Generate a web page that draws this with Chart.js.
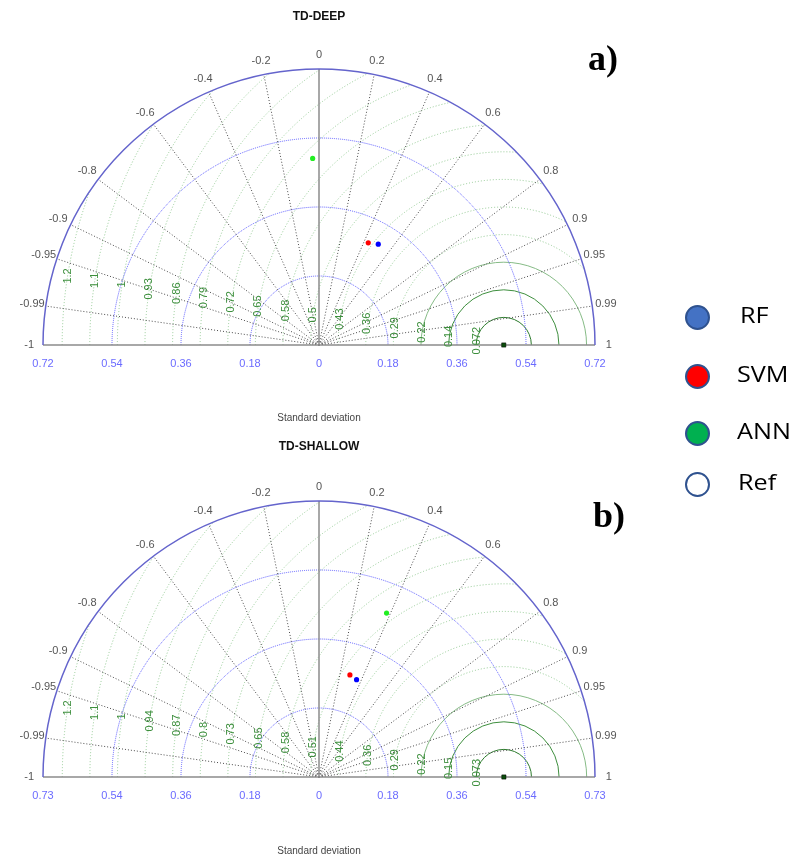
<!DOCTYPE html>
<html>
<head>
<meta charset="utf-8">
<script src="https://cdn.jsdelivr.net/npm/chart.js@4.4.1/dist/chart.umd.min.js"></script>
<style>
  body { margin: 0; background: #fff; width: 795px; height: 860px; position: relative; overflow: hidden; }
  canvas { position: absolute; left: 0; }
  #ca { top: 0; }
  #cb { top: 430px; }
  .lg { position: absolute; left: 685px; height: 0; }
  .dot { position: absolute; left: 0; top: -12.5px; width: 21px; height: 21px; border: 2px solid #2f528f; border-radius: 50%; }
  .tx { position: absolute; top: -16px; line-height: 30px; font: 21px "Open Sans", sans-serif; color: #000;
        transform: scaleX(1.2); transform-origin: left center; white-space: nowrap; }
</style>
</head>
<body>
<canvas id="ca" width="795" height="430"></canvas>
<canvas id="cb" width="795" height="430"></canvas>

<div class="lg" style="top:317px"><span class="dot" style="background:#4472c4"></span><span class="tx" style="left:55px">RF</span></div>
<div class="lg" style="top:376px"><span class="dot" style="background:#ff0000"></span><span class="tx" style="left:52px">SVM</span></div>
<div class="lg" style="top:433px"><span class="dot" style="background:#00b050"></span><span class="tx" style="left:52px">ANN</span></div>
<div class="lg" style="top:484px"><span class="dot" style="background:#fff"></span><span class="tx" style="left:53px">Ref</span></div>

<script>
/* ---------- data ---------- */
const MODELS = ["RF", "SVM", "ANN"];
const POINT_COLORS = ["#0000ff", "#ff0000", "#22ee22"];

const CORR_TICKS = [0.2, 0.4, 0.6, 0.8, 0.9, 0.95, 0.99];
const CORR_LABELS = [-1, -0.99, -0.95, -0.9, -0.8, -0.6, -0.4, -0.2, 0, 0.2, 0.4, 0.6, 0.8, 0.9, 0.95, 0.99, 1];

// a) TD-DEEP
const stdA = [0.305, 0.296, 0.487];
const corrA = [0.507, 0.434, -0.034];
const refStdA = 0.482;
const stdMaxA = 0.72;
const stdTicksA = [0.18, 0.36, 0.54, 0.72];
const stdTickLabelsA = ["0.18", "0.36", "0.54", "0.72"];
const rmsA = [0.072, 0.144, 0.216, 0.288, 0.36, 0.432, 0.504, 0.576, 0.648, 0.72, 0.792, 0.864, 0.936, 1.008, 1.08, 1.152];
const rmsLabelsA = ["0.072", "0.14", "0.22", "0.29", "0.36", "0.43", "0.5", "0.58", "0.65", "0.72", "0.79", "0.86", "0.93", "1", "1.1", "1.2"];

// b) TD-SHALLOW
const stdB = [0.276, 0.282, 0.469];
const corrB = [0.36, 0.29, 0.381];
const refStdB = 0.489;
const stdMaxB = 0.73;
const stdTicksB = [0.1825, 0.365, 0.5475, 0.73];
const stdTickLabelsB = ["0.18", "0.36", "0.54", "0.73"];
const rmsB = [0.073, 0.146, 0.219, 0.292, 0.365, 0.438, 0.511, 0.584, 0.657, 0.73, 0.803, 0.876, 0.949, 1.022, 1.095, 1.168];
const rmsLabelsB = ["0.073", "0.15", "0.22", "0.29", "0.36", "0.44", "0.51", "0.58", "0.65", "0.73", "0.8", "0.87", "0.94", "1", "1.1", "1.2"];

/* ---------- taylor grid plugin ---------- */
const FONT = '"Liberation Sans", Arial, sans-serif';
const RMS_STYLE = [
  { color: "#2c7a2c", dash: [] },
  { color: "#3f8f3f", dash: [] },
  { color: "#86bb86", dash: [] },
];
const RMS_DOTTED = { color: "#92c892", dash: [1, 2] };

function makeGrid(o) {
  return {
    id: "taylorGrid",
    beforeDatasetsDraw(chart) {
      const { ctx } = chart, xs = chart.scales.x, ys = chart.scales.y;
      const cx = xs.getPixelForValue(0), cy = ys.getPixelForValue(0);
      const k = xs.getPixelForValue(1) - cx;
      const R = o.max * k;
      const refX = xs.getPixelForValue(o.refStd);
      ctx.save();

      // RMS circles around the reference, clipped to the half disc
      ctx.save();
      ctx.beginPath();
      ctx.arc(cx, cy, R, Math.PI, 2 * Math.PI);
      ctx.closePath();
      ctx.clip();
      o.rms.forEach((r, i) => {
        const st = RMS_STYLE[i] || RMS_DOTTED;
        ctx.strokeStyle = st.color;
        ctx.setLineDash(st.dash);
        ctx.lineWidth = 1;
        ctx.beginPath();
        ctx.arc(refX, cy, r * k, Math.PI, 2 * Math.PI);
        ctx.stroke();
      });
      ctx.restore();

      // std dev arcs
      ctx.strokeStyle = "#5c5cff";
      ctx.lineWidth = 1;
      ctx.setLineDash([1, 1]);
      o.stdTicks.slice(0, -1).forEach(s => {
        ctx.beginPath();
        ctx.arc(cx, cy, s * k, Math.PI, 2 * Math.PI);
        ctx.stroke();
      });

      // correlation spokes
      ctx.strokeStyle = "#4a4a4a";
      ctx.setLineDash([1, 2]);
      CORR_TICKS.forEach(c => {
        const s = Math.sqrt(1 - c * c);
        [c, -c].forEach(cc => {
          ctx.beginPath();
          ctx.moveTo(cx, cy);
          ctx.lineTo(cx + R * cc, cy - R * s);
          ctx.stroke();
        });
      });
      ctx.setLineDash([]);

      // zero-correlation axis and baseline
      ctx.strokeStyle = "#8c8c8c";
      ctx.lineWidth = 1.5;
      ctx.beginPath();
      ctx.moveTo(cx, cy);
      ctx.lineTo(cx, cy - R);
      ctx.moveTo(cx - R, cy);
      ctx.lineTo(cx + R, cy);
      ctx.stroke();

      // outer arc
      ctx.strokeStyle = "#6464cc";
      ctx.lineWidth = 1.5;
      ctx.beginPath();
      ctx.arc(cx, cy, R, Math.PI, 2 * Math.PI);
      ctx.stroke();

      // correlation labels
      ctx.fillStyle = "#555";
      ctx.font = "11px " + FONT;
      ctx.textAlign = "center";
      ctx.textBaseline = "middle";
      const rt = 1.05 * R;
      CORR_LABELS.forEach(c => {
        const s = Math.sqrt(Math.max(0, 1 - c * c));
        ctx.fillText(String(c), cx + rt * c, cy - rt * s);
      });

      // std labels
      ctx.fillStyle = "#6b6bff";
      ctx.fillText("0", cx, cy + 19);
      o.stdTicks.forEach((s, i) => {
        ctx.fillText(o.stdTickLabels[i], cx - s * k, cy + 19);
        ctx.fillText(o.stdTickLabels[i], cx + s * k, cy + 19);
      });

      // RMS labels, rotated, on each circle
      ctx.fillStyle = "#3d8f3d";
      const a = 9 * Math.PI / 180;
      o.rms.forEach((r, i) => {
        const px = refX - r * k * Math.cos(a), py = cy - r * k * Math.sin(a);
        ctx.save();
        ctx.translate(px, py);
        ctx.rotate(-Math.PI / 2);
        ctx.fillText(o.rmsLabels[i], 0, 0);
        ctx.restore();
      });

      // titles
      ctx.fillStyle = "#111";
      ctx.font = "bold 12px " + FONT;
      ctx.fillText(o.title, cx, 17);
      ctx.fillStyle = "#444";
      ctx.font = "10px " + FONT;
      ctx.fillText("Standard deviation", cx, o.xTitleY);
      ctx.fillStyle = "#000";
      ctx.textAlign = "left";
      ctx.textBaseline = "alphabetic";
      ctx.font = 'bold 36px "Liberation Serif", "Times New Roman", serif';
      ctx.fillText(o.tag, o.tagX, o.tagY);
      ctx.restore();
    },
  };
}

function taylorChart(id, o) {
  const pts = o.std.map((s, i) => ({ x: s * o.corr[i], y: s * Math.sqrt(1 - o.corr[i] * o.corr[i]) }));
  new Chart(document.getElementById(id), {
    type: "scatter",
    data: {
      datasets: [
        ...MODELS.map((m, i) => ({
          label: m,
          data: [pts[i]],
          backgroundColor: POINT_COLORS[i],
          borderWidth: 0,
          pointRadius: 2.6,
          clip: false,
        })),
        {
          label: "Ref",
          data: [{ x: o.refStd, y: 0 }],
          pointStyle: "rect",
          backgroundColor: "#0b4d0b",
          borderColor: "#000",
          borderWidth: 0.5,
          pointRadius: 3,
          clip: false,
        },
      ],
    },
    options: {
      responsive: false,
      animation: false,
      events: [],
      layout: { padding: o.pad },
      plugins: { legend: { display: false }, tooltip: { enabled: false } },
      scales: {
        x: { type: "linear", min: -o.max, max: o.max, display: false },
        y: { type: "linear", min: 0, max: o.max, display: false },
      },
    },
    plugins: [makeGrid(o)],
  });
}

taylorChart("ca", {
  title: "TD-DEEP", tag: "a)", tagX: 588, tagY: 70, xTitleY: 418,
  std: stdA, corr: corrA, refStd: refStdA, max: stdMaxA,
  stdTicks: stdTicksA, stdTickLabels: stdTickLabelsA, rms: rmsA, rmsLabels: rmsLabelsA,
  pad: { left: 43, right: 200, top: 69, bottom: 85 },
});

taylorChart("cb", {
  title: "TD-SHALLOW", tag: "b)", tagX: 593, tagY: 97, xTitleY: 421,
  std: stdB, corr: corrB, refStd: refStdB, max: stdMaxB,
  stdTicks: stdTicksB, stdTickLabels: stdTickLabelsB, rms: rmsB, rmsLabels: rmsLabelsB,
  pad: { left: 43, right: 200, top: 71, bottom: 83 },
});
</script>
</body>
</html>
